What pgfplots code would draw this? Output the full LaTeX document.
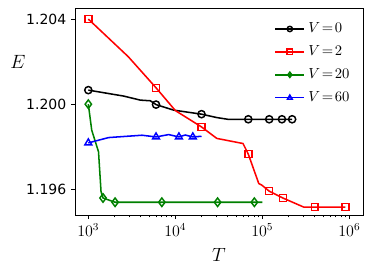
\documentclass[border=0pt]{standalone}
\usepackage{fontspec}
\setsansfont{DejaVu Sans}
\usepackage{pgfplots}
\pgfplotsset{compat=1.18}
\definecolor{mgreen}{RGB}{0,128,0}
\begin{document}
\begin{tikzpicture}
\begin{axis}[
  scale only axis,
  width=216pt, height=155.25pt,
  xmode=log,
  xmin=703, xmax=1.436e6,
  ymin=1.19479, ymax=1.20452,
  ytick={1.196,1.200,1.204},
  yticklabels={1.196,1.200,1.204},
  xtick={1e3,1e4,1e5,1e6},
  tick align=outside,
  xtick pos=bottom, ytick pos=left,
  major tick length=3pt, minor tick length=1.7pt,
  axis line style={line width=0.7pt},
  every tick/.style={line width=0.6pt, black},
  xticklabel style={font=\fontsize{12}{14}\selectfont},
  yticklabel style={font=\sffamily\fontsize{10.5}{12}\selectfont},
  xlabel={$T$},
  ylabel={$E$},
  xlabel style={at={(axis description cs:0.5,-0.193)}, anchor=center, font=\fontsize{15}{17}\selectfont},
  ylabel style={rotate=-90, at={(axis description cs:-0.198,0.74)}, anchor=center, font=\fontsize{14.5}{17}\selectfont},
  legend style={draw=none, fill=none, at={(axis description cs:0.692,0.945)}, anchor=north west,
    font=\fontsize{11}{13}\selectfont, row sep=3.2pt, inner sep=0pt,
    nodes={inner sep=2.5pt}},
  legend cell align=left,
  legend image code/.code={\draw[#1, mark indices={2}, mark size=2pt] plot coordinates {(0pt,0pt)(10.875pt,0pt)(21.75pt,0pt)};},
  every axis plot/.append style={line width=1.15pt, mark options={solid, fill=none, line width=1.1pt}},
]
\addplot[black, line width=1.15pt, mark=o, mark size=2.7pt, mark indices={1,5,7,10,11,12,13}] coordinates {
(1000,1.20066) (2550,1.20038) (3960,1.20019) (5160,1.20016) (6000,1.19998)
(9560,1.19972) (20000,1.19953) (30000,1.19937) (40000,1.19929) (69000,1.19929)
(120000,1.19929) (168000,1.19929) (220000,1.19929)};
\addlegendentry{$V\!=\!0$}
\addplot[red, line width=1.15pt, mark=square, mark size=2.6pt, mark indices={1,3,5,8,11,12,14,15}] coordinates {
(1000,1.20400) (2880,1.20223) (6000,1.20077) (10000,1.19970) (20000,1.19893)
(30000,1.19839) (60000,1.19815) (69000,1.19765) (91000,1.19627) (99000,1.19619)
(120000,1.19591) (172000,1.19559) (300000,1.19516) (400000,1.19516) (900000,1.19516)};
\addlegendentry{$V\!=\!2$}
\addplot[mgreen, line width=1.15pt, mark=diamond, mark size=3.2pt, mark indices={1,5,6,7,8,9}] coordinates {
(1000,1.20000) (1094,1.19878) (1310,1.19776) (1400,1.19589) (1475,1.19559)
(2030,1.19539) (7000,1.19539) (30600,1.19539) (81000,1.19539) (100000,1.19539)};
\addlegendentry{$V\!=\!20$}
\addplot[blue, line width=1.15pt, mark=triangle, mark size=3pt, mark indices={1,4,6,8}] coordinates {
(1000,1.19818) (1710,1.19843) (4140,1.19854) (6000,1.19846) (8380,1.19857)
(11000,1.19846) (13000,1.19855) (15900,1.19846) (20000,1.19849)};
\addlegendentry{$V\!=\!60$}
\end{axis}
\pgfresetboundingbox
\path ([shift={(-56.25pt,-46.5pt)}]current axis.south west) rectangle ([shift={(8.25pt,6pt)}]current axis.north east);
\end{tikzpicture}
\end{document}
